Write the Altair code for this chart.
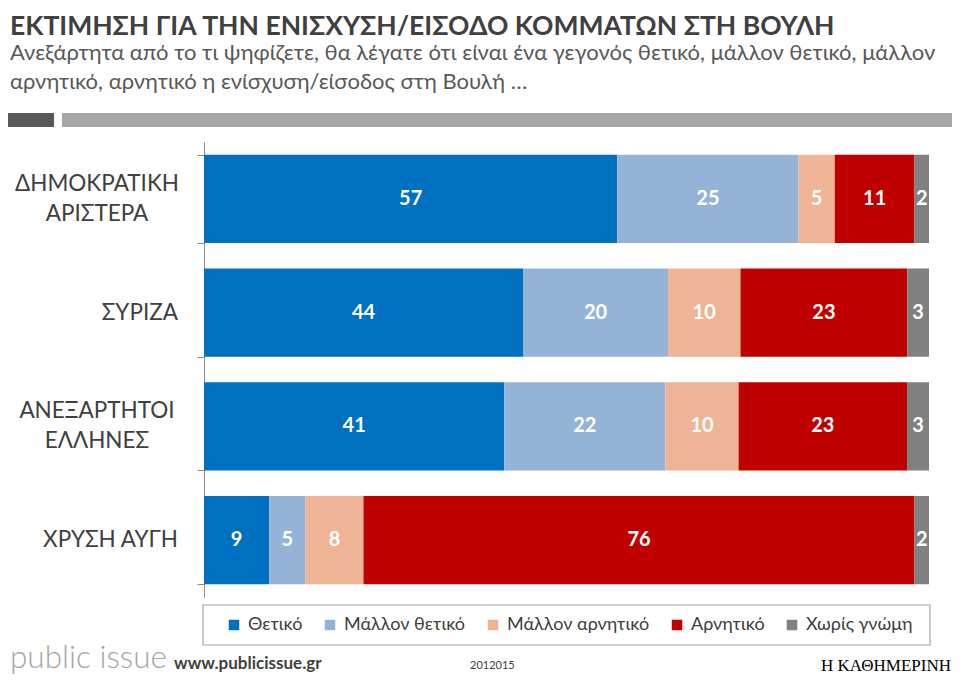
import altair as alt
import pandas as pd

parties = ["ΔΗΜΟΚΡΑΤΙΚΗ ΑΡΙΣΤΕΡΑ", "ΣΥΡΙΖΑ", "ΑΝΕΞΑΡΤΗΤΟΙ ΕΛΛΗΝΕΣ", "ΧΡΥΣΗ ΑΥΓΗ"]
party_lines = [["ΔΗΜΟΚΡΑΤΙΚΗ", "ΑΡΙΣΤΕΡΑ"], ["ΣΥΡΙΖΑ"], ["ΑΝΕΞΑΡΤΗΤΟΙ", "ΕΛΛΗΝΕΣ"], ["ΧΡΥΣΗ ΑΥΓΗ"]]
answers = ["Θετικό", "Μάλλον θετικό", "Μάλλον αρνητικό", "Αρνητικό", "Χωρίς γνώμη"]
colors = ["#0070C0", "#95B3D7", "#EEB495", "#C00000", "#808080"]

thetiko = [57, 44, 41, 9]
mallon_thetiko = [25, 20, 22, 5]
mallon_arnitiko = [5, 10, 10, 8]
arnitiko = [11, 23, 23, 76]
xoris_gnomi = [2, 3, 3, 2]

title = "ΕΚΤΙΜΗΣΗ ΓΙΑ ΤΗΝ ΕΝΙΣΧΥΣΗ/ΕΙΣΟΔΟ ΚΟΜΜΑΤΩΝ ΣΤΗ ΒΟΥΛΗ"
subtitle = ["Ανεξάρτητα από το τι ψηφίζετε, θα λέγατε ότι είναι ένα γεγονός θετικό, μάλλον θετικό, μάλλον",
            "αρνητικό, αρνητικό η ενίσχυση/είσοδος στη Βουλή …"]

series = [thetiko, mallon_thetiko, mallon_arnitiko, arnitiko, xoris_gnomi]
rows = []
for ai, (a, vals) in enumerate(zip(answers, series)):
    for pi, p in enumerate(parties):
        rows.append({"party": p, "answer": a, "order": ai, "value": vals[pi]})
df = pd.DataFrame(rows)

labels_df = pd.DataFrame({
    "party": parties,
    "lines": party_lines,
    "n": [len(l) for l in party_lines],
})

FONT = "Lato"
DARK = "#404040"

ysc = alt.Scale(domain=parties, paddingInner=0.226, paddingOuter=0.113)

base = alt.Chart(df).transform_stack(
    stack="value", groupby=["party"], as_=["v0", "v1"], offset="normalize",
    sort=[alt.SortField("order", order="ascending")]
).transform_calculate(mid="(datum.v0 + datum.v1) / 2")

bars = base.mark_bar().encode(
    y=alt.Y("party:N", scale=ysc, title=None,
            axis=alt.Axis(labels=False, tickBand="extent", tickSize=7,
                          domainColor="#8C8C8C", tickColor="#8C8C8C", domainWidth=1)),
    x=alt.X("v0:Q", scale=alt.Scale(domain=[0, 1], nice=False), axis=None, title=None),
    x2="v1:Q",
    color=alt.Color("answer:N", scale=alt.Scale(domain=answers, range=colors),
                    sort=answers,
                    legend=alt.Legend(title=None, orient="none", legendX=16, legendY=469,
                                      direction="horizontal", symbolType="square",
                                      symbolSize=110, symbolStrokeWidth=0,
                                      labelFont=FONT, labelFontSize=18, labelColor=DARK,
                                      labelOffset=5, columnPadding=18, padding=5)),
    order="order:Q",
)

texts = base.mark_text(color="white", font=FONT, fontWeight="bold", fontSize=20).encode(
    y=alt.Y("party:N", scale=ysc),
    x=alt.X("mid:Q"),
    text="value:Q",
)

lab_multi = alt.Chart(labels_df).transform_filter("datum.n > 1").mark_text(
    align="center", baseline="middle", font=FONT, fontSize=22.5, color=DARK,
    lineHeight=30, dy=-15
).encode(y=alt.Y("party:N", scale=ysc), x=alt.value(-107), text="lines")

lab_single = alt.Chart(labels_df).transform_filter("datum.n == 1").mark_text(
    align="right", baseline="middle", font=FONT, fontSize=22.5, color=DARK
).encode(y=alt.Y("party:N", scale=ysc), x=alt.value(-26), text="party:N")


def txt(t, x, y, size, color=DARK, weight="normal", font=FONT, align="left"):
    return alt.Chart(pd.DataFrame({"t": [t]})).mark_text(
        align=align, baseline="alphabetic", fontSize=size, color=color,
        fontWeight=weight, font=font
    ).encode(x=alt.value(x), y=alt.value(y), text="t:N")


def rect(x, x2, y, y2, color, fill=True):
    m = alt.Chart(pd.DataFrame({"a": [0]}))
    if fill:
        m = m.mark_rect(color=color)
    else:
        m = m.mark_rect(fillOpacity=0, stroke=color, strokeWidth=1.2)
    return m.encode(x=alt.value(x), x2=alt.value(x2), y=alt.value(y), y2=alt.value(y2))


deco = [
    txt(title, -194, -107, 26.5, color=DARK, weight="bold"),
    txt(subtitle[0], -194, -82, 22, color="#595959"),
    txt(subtitle[1], -194, -53, 22, color="#595959"),
    rect(-202, -150, -29, -15, "#595959"),
    rect(-142, 754, -29, -15, "#A6A6A6"),
    rect(-1, 726, 463, 503, "#A6A6A6", fill=False),
    txt("public issue", -194, 526, 31.5, color="#A6A6A6", weight=300),
    txt("www.publicissue.gr", -30, 527, 17, color=DARK, weight="bold"),
    txt("2012015", 266, 527, 11, color=DARK),
    txt("Η ΚΑΘΗΜΕΡΙΝΗ", 747, 529, 17, color="#000000", font="Liberation Serif", align="right"),
]

chart = alt.layer(bars, texts, lab_multi, lab_single, *deco).properties(
    width=725, height=455,
    padding={"left": 196, "top": 134, "right": 23, "bottom": 79},
    autosize=alt.AutoSizeParams(type="none"),
    background="white",
).configure_view(stroke=None)

chart.save("out.html", embed_options={"renderer": "svg", "actions": False})
